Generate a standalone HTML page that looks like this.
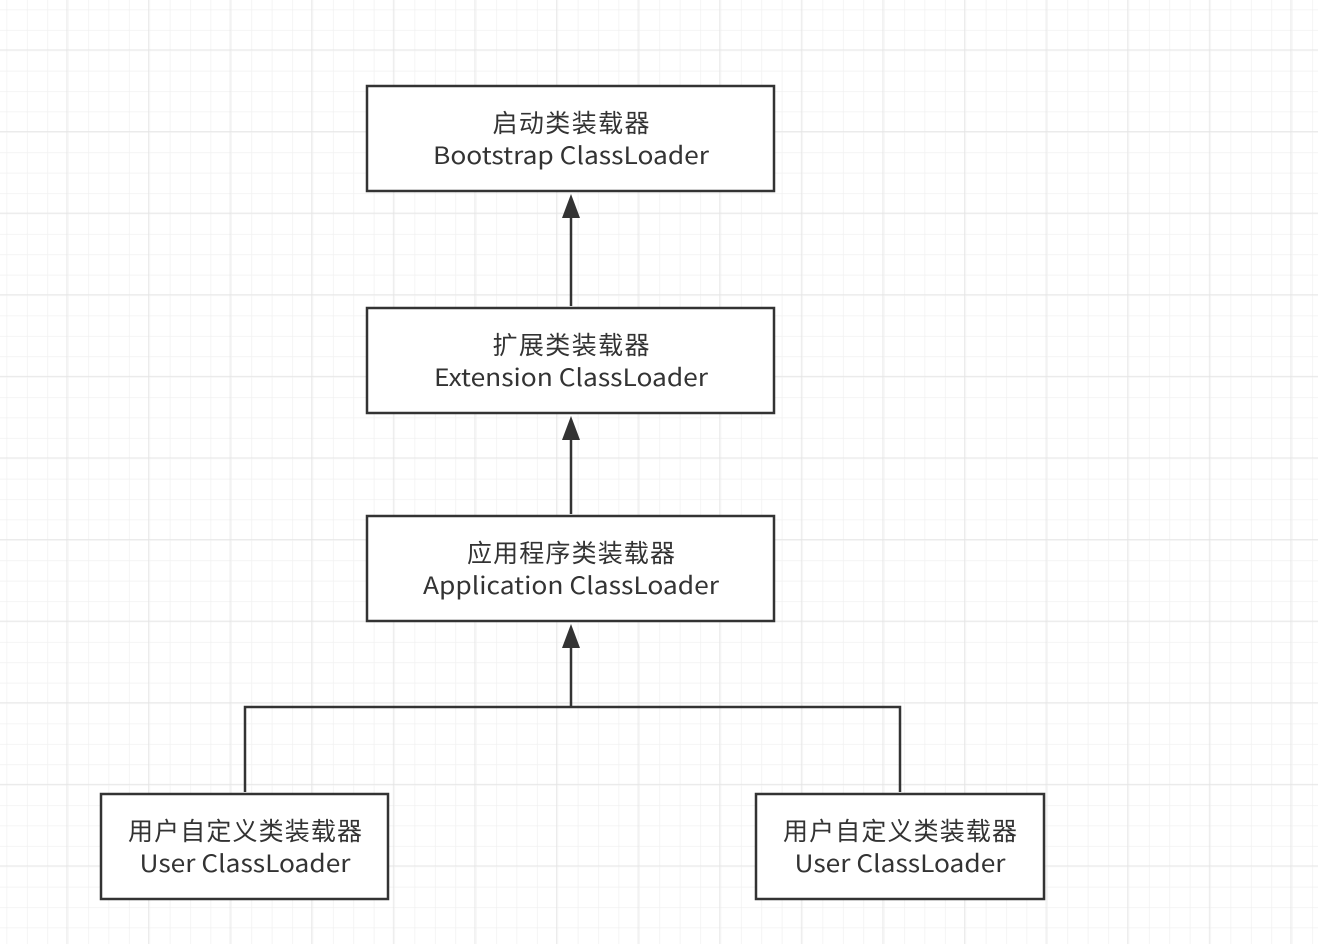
<!DOCTYPE html>
<html><head><meta charset="utf-8"><style>
body{margin:0;width:1318px;height:944px;overflow:hidden;background:#fff}
text{font-family:"Noto Sans CJK SC","Liberation Sans",sans-serif;font-size:24px;fill:#333}
text.c{font-size:25px}
</style></head><body>
<svg width="1318" height="944" xmlns="http://www.w3.org/2000/svg">
<defs>
<pattern id="minor" x="6.5" y="9.5" width="20.4" height="20.4" patternUnits="userSpaceOnUse">
<path d="M0 0H20.4M0 0V20.4" stroke="#f1f1f1" stroke-width="1.5" fill="none"/>
</pattern>
<pattern id="major" x="66.5" y="49.5" width="81.6" height="81.6" patternUnits="userSpaceOnUse">
<path d="M0 0H81.6M0 0V81.6" stroke="#e4e4e4" stroke-width="1.5" fill="none"/>
</pattern>
</defs>
<rect width="1318" height="944" fill="url(#minor)"/>
<rect width="1318" height="944" fill="url(#major)"/>
<g stroke="#333" stroke-width="2.5" fill="none">
<path d="M571 306V216M571 514V438M571 707V646M245 792V707H900V792"/>
</g>
<g fill="#333">
<path d="M571 194L562 218H580Z"/><path d="M571 416L562 440H580Z"/><path d="M571 624L562 648H580Z"/>
</g>
<g stroke="#333" stroke-width="2.5" fill="#fff">
<rect x="367" y="86" width="407" height="105"/>
<rect x="367" y="308" width="407" height="105"/>
<rect x="367" y="516" width="407" height="105"/>
<rect x="101" y="794" width="287" height="105"/>
<rect x="756" y="794" width="288" height="105"/>
</g>
<g text-anchor="middle">
<text class="c" x="571" y="132" textLength="157">启动类装载器</text><text x="571" y="164" textLength="276" lengthAdjust="spacingAndGlyphs">Bootstrap ClassLoader</text>
<text class="c" x="571" y="354" textLength="157">扩展类装载器</text><text x="571" y="386" textLength="274" lengthAdjust="spacingAndGlyphs">Extension ClassLoader</text>
<text class="c" x="571" y="562" textLength="208">应用程序类装载器</text><text x="571" y="594" textLength="296" lengthAdjust="spacingAndGlyphs">Application ClassLoader</text>
<text class="c" x="245" y="840" textLength="234">用户自定义类装载器</text><text x="245" y="872" textLength="211" lengthAdjust="spacingAndGlyphs">User ClassLoader</text>
<text class="c" x="900" y="840" textLength="234">用户自定义类装载器</text><text x="900" y="872" textLength="211" lengthAdjust="spacingAndGlyphs">User ClassLoader</text>
</g>
</svg>
</body></html>
